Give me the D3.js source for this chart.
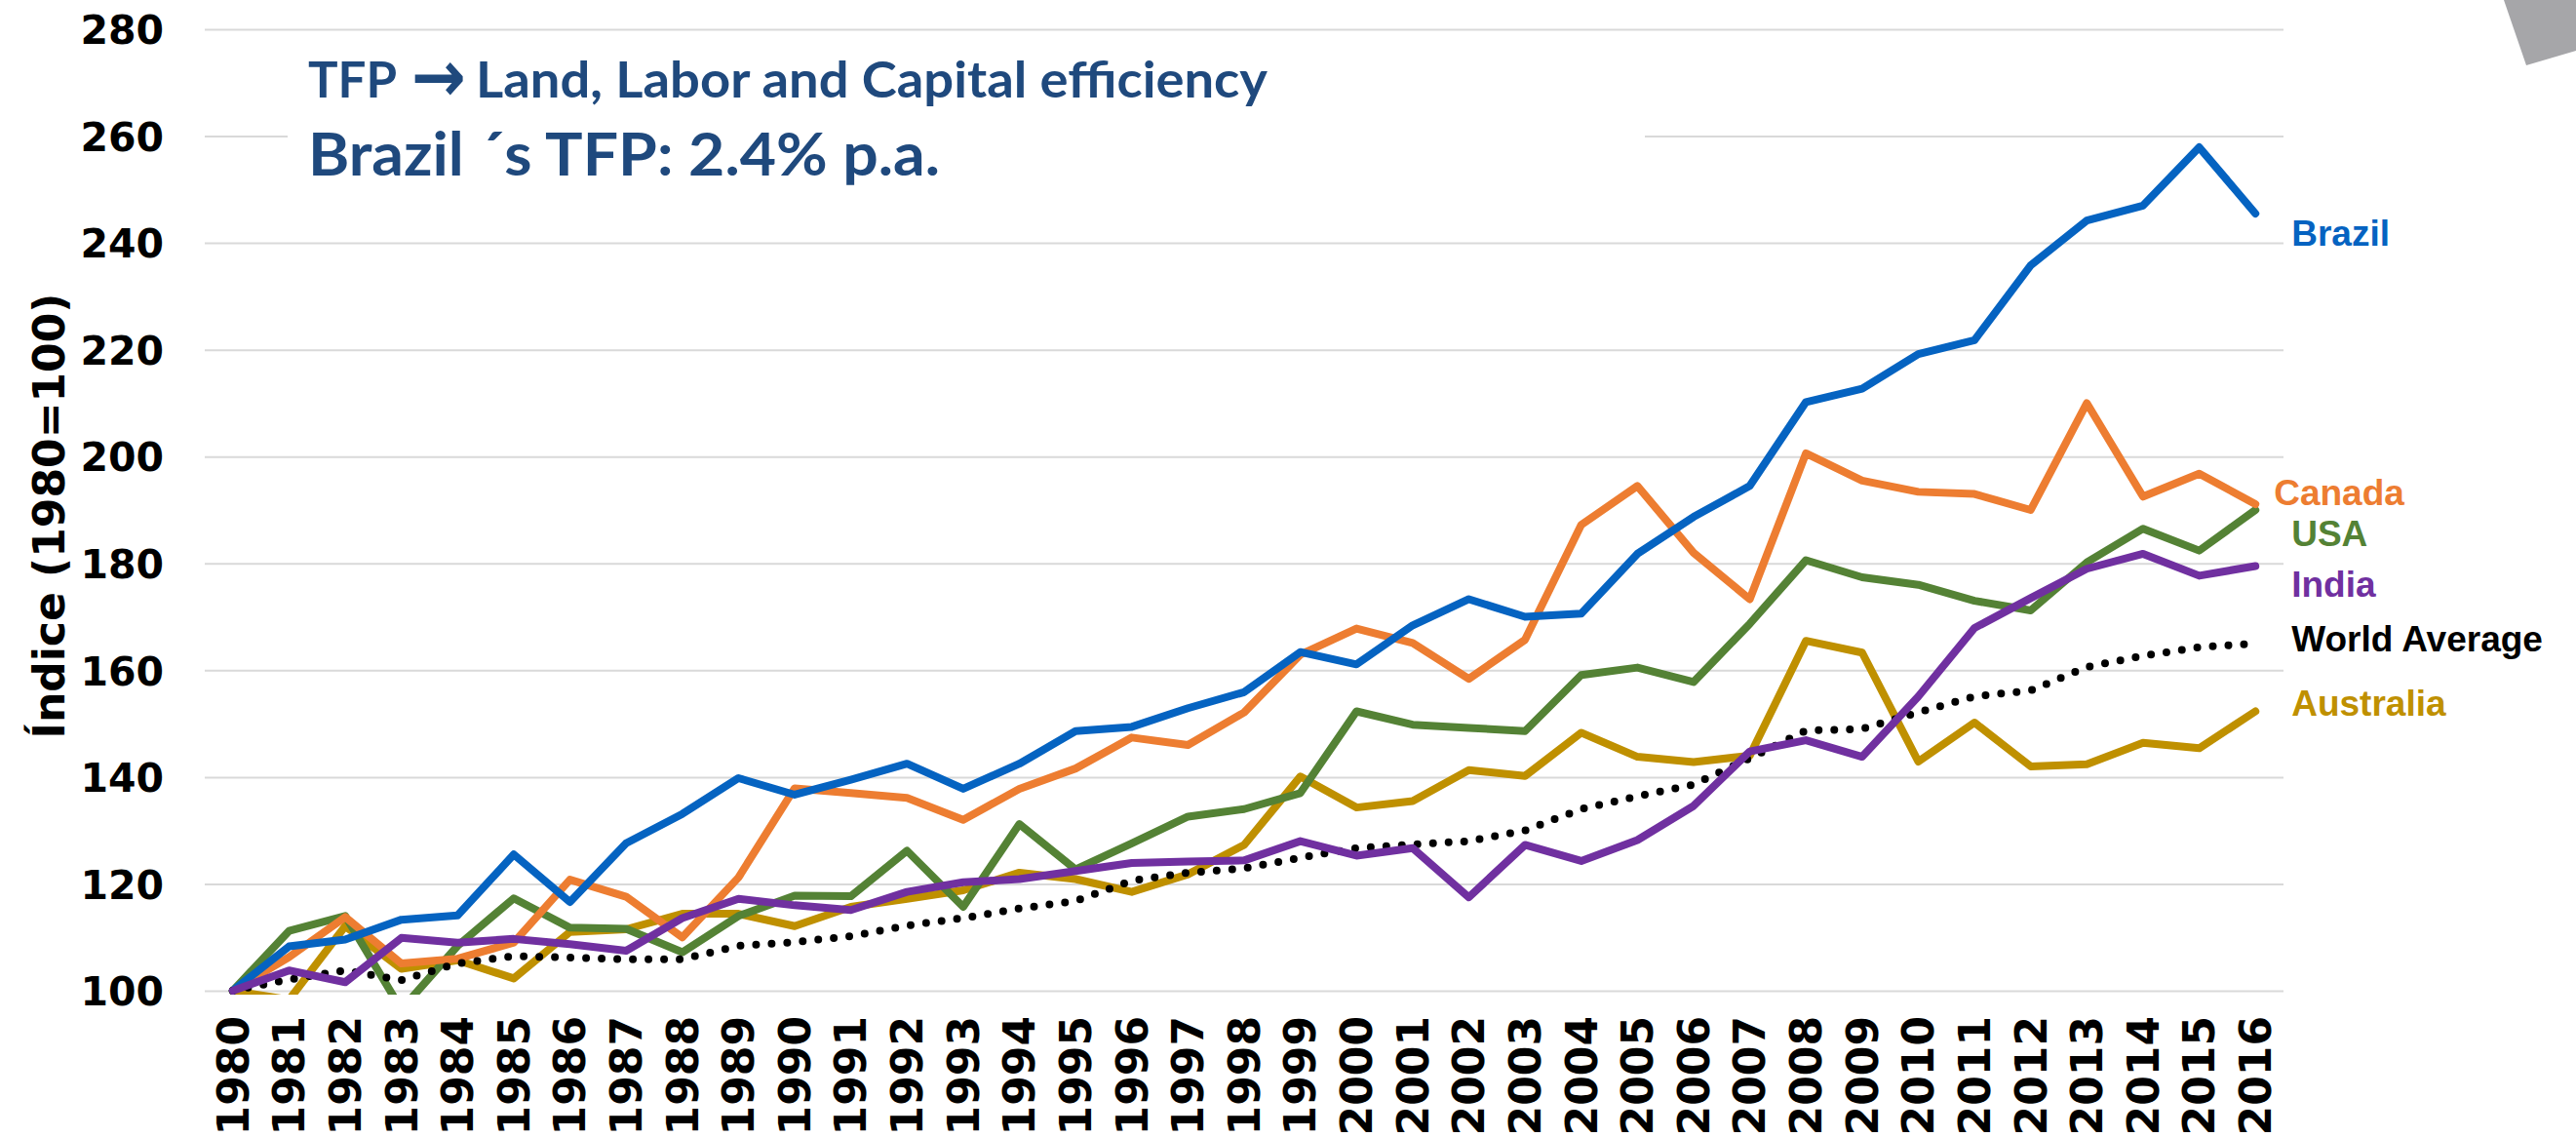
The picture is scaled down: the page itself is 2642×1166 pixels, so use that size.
<!DOCTYPE html>
<html>
<head>
<meta charset="utf-8">
<script src="https://cdn.jsdelivr.net/npm/d3@7"></script>
<style>
  body { margin: 0; background: #fff; }
  .grid line { stroke: #d9d9d9; stroke-width: 2; }
  .grid .domain { display: none; }
  .axis text { font-family: "DejaVu Sans", sans-serif; font-weight: bold; fill: #000; }
  .axis .domain, .axis line { display: none; }
  .series { fill: none; stroke-width: 8; stroke-linejoin: round; stroke-linecap: round; }
</style>
</head>
<body>
<svg class="tfp-chart"></svg>
<script>
var years = d3.range(1980, 2017).map(String);

var brazil = [100, 108.3, 109.6, 113.3, 114.1, 125.5, 116.6, 127.6, 133.1, 139.8, 136.7, 139.5, 142.5, 137.8, 142.5, 148.6, 149.4, 152.9, 155.9, 163.4, 161.1, 168.4, 173.3, 170, 170.6, 181.8, 188.7, 194.5, 210.2, 212.7, 219.2, 221.8, 235.8, 244.2, 247, 257.9, 245.5];
var canada = [100, 106.3, 113.8, 105.1, 106, 109, 120.8, 117.6, 110, 121.2, 137.9, 137, 136.1, 132, 137.8, 141.6, 147.4, 146, 152.1, 162.9, 167.8, 165.1, 158.4, 165.7, 187.2, 194.5, 182, 173.3, 200.6, 195.5, 193.4, 193, 190, 210, 192.5, 196.8, 191.1];
var usa = [100, 111.2, 114, 96.5, 108.4, 117.3, 111.8, 111.6, 107.2, 114, 117.8, 117.7, 126.2, 115.7, 131.2, 122.7, 127.6, 132.6, 134, 137, 152.3, 149.8, 149.2, 148.6, 159.1, 160.5, 157.8, 168.7, 180.6, 177.4, 176, 173, 171.2, 180.2, 186.5, 182.4, 190];
var india = [100, 103.8, 101.6, 109.9, 109, 109.7, 108.7, 107.5, 113.6, 117.2, 116, 115.1, 118.5, 120.3, 120.9, 122.4, 123.9, 124.2, 124.4, 128, 125.3, 126.7, 117.5, 127.3, 124.3, 128.2, 134.6, 144.8, 146.9, 143.8, 155.1, 167.9, 173.5, 179, 181.8, 177.7, 179.5];
var worldAverage = [100, 102.1, 103.8, 102, 105.1, 106.5, 106.2, 105.9, 105.9, 108.4, 109.1, 110.2, 112.2, 113.6, 115.4, 116.8, 120.6, 122.1, 122.9, 124.9, 126.7, 127.4, 128, 130, 134, 136.4, 138.6, 143.5, 148.7, 149, 152.1, 155.1, 156.2, 160.6, 162.7, 164.3, 165];
var australia = [100, 98.3, 112.1, 104.1, 105.7, 102.3, 111, 111.5, 114.4, 114.4, 112.1, 115.7, 117.2, 118.8, 122.1, 120.9, 118.5, 121.8, 127.3, 140.1, 134.3, 135.5, 141.3, 140.2, 148.3, 143.8, 142.8, 144, 165.5, 163.3, 142.9, 150.2, 142, 142.4, 146.4, 145.4, 152.3];

var yTicks = [100, 120, 140, 160, 180, 200, 220, 240, 260, 280];

var titleLine1 = "TFP ";
var titleArrow = "\u2192";
var titleLine1b = "Land, Labor and Capital efficiency";
var titleLine2 = "Brazil \u00b4s TFP: 2.4% p.a.";
var yTitle = "\u00cdndice (1980=100)";

// drawing order: last one on top
var series = [
  {name: "Australia", values: australia, color: "#bf9000", labelAt: 151.4},
  {name: "USA", values: usa, color: "#548235", labelAt: 183.2},
  {name: "Canada", values: canada, color: "#ed7d31", labelAt: 191},
  {name: "Brazil", values: brazil, color: "#0563c1", labelAt: 239.5},
  {name: "World Average", values: worldAverage, color: "#000000", labelAt: 163.5, dotted: true},
  {name: "India", values: india, color: "#7030a0", labelAt: 173.7}
];

var W = 2642, H = 1166;
var margin = {top: 30, right: 300, bottom: 150, left: 210};
var width = W - margin.left - margin.right;
var height = H - margin.top - margin.bottom;

var svg = d3.select(".tfp-chart")
  .attr("width", W)
  .attr("height", H)
  .style("font-family", "'DejaVu Sans', sans-serif");

svg.append("rect").attr("width", W).attr("height", H).attr("fill", "#fff");

var chart = svg.append("g")
  .attr("transform", "translate(" + margin.left + "," + margin.top + ")");

var x = d3.scaleBand().domain(years).range([0, width]).padding(0);
var y = d3.scaleLinear().domain([100, 280]).range([height, 0]);

function cx(i) { return x(years[i]) + x.bandwidth() / 2; }

chart.append("defs").append("clipPath").attr("id", "plot-clip")
  .append("rect")
  .attr("x", 0).attr("y", -10)
  .attr("width", width).attr("height", height + 14);

// gridlines
chart.append("g")
  .attr("class", "grid")
  .call(d3.axisLeft(y).tickValues(yTicks).tickSize(-width).tickFormat(""));

// y axis labels
var yAxis = chart.append("g")
  .attr("class", "axis")
  .call(d3.axisLeft(y).tickValues(yTicks).tickSize(0).tickPadding(42).tickFormat(d3.format("d")));
yAxis.selectAll("text").style("font-size", "41px").attr("dy", "0.36em");

// x axis labels
var xAxis = chart.append("g")
  .attr("class", "axis")
  .attr("transform", "translate(0," + height + ")")
  .call(d3.axisBottom(x).tickSize(0));
xAxis.selectAll("text")
  .style("font-size", "44px")
  .style("text-anchor", "end")
  .attr("y", 0)
  .attr("x", -26)
  .attr("dy", "0.36em")
  .attr("transform", "rotate(-90)");

// y title
svg.append("text")
  .attr("transform", "rotate(-90)")
  .attr("x", -529)
  .attr("y", 50)
  .attr("dy", "0.36em")
  .style("text-anchor", "middle")
  .style("font-size", "44px")
  .style("font-weight", "bold")
  .text(yTitle);

// lines
var line = d3.line()
  .x(function(d, i) { return cx(i); })
  .y(function(d) { return y(d); });

var lines = chart.append("g").attr("clip-path", "url(#plot-clip)");
series.forEach(function(s) {
  var p = lines.append("path")
    .datum(s.values)
    .attr("class", "series")
    .attr("stroke", s.color)
    .attr("d", line);
  if (s.dotted) {
    p.attr("stroke-dasharray", "0 16");
  }
});

// series labels next to the last point
var last = years.length - 1;
chart.selectAll(".series-label")
  .data(series)
  .enter().append("text")
  .attr("class", "series-label")
  .attr("x", function(d) { return cx(last) + (d.name == "Canada" ? 19 : 37); })
  .attr("y", function(d) { return y(d.labelAt); })
  .style("font-family", "'Liberation Sans', Arial, sans-serif")
  .style("font-weight", "bold")
  .style("font-size", "37px")
  .attr("fill", function(d) { return d.color; })
  .text(function(d) { return d.name; });

// title box
svg.append("rect")
  .attr("x", 295).attr("y", 45)
  .attr("width", 1392).attr("height", 180)
  .attr("fill", "#fff");

var t1 = svg.append("text")
  .attr("x", 316).attr("y", 100)
  .attr("fill", "#1f497d")
  .style("font-family", "Lato, 'Open Sans', sans-serif")
  .style("font-weight", "bold")
  .style("font-size", "51px");
t1.append("tspan").text(titleLine1);
t1.append("tspan")
  .attr("x", 422)
  .attr("dy", 4)
  .attr("textLength", 56)
  .attr("lengthAdjust", "spacingAndGlyphs")
  .style("font-family", "'DejaVu Sans', sans-serif")
  .style("font-size", "74px")
  .text(titleArrow);
t1.append("tspan")
  .attr("x", 488)
  .attr("dy", -4)
  .attr("textLength", 812)
  .attr("lengthAdjust", "spacingAndGlyphs")
  .text(titleLine1b);

svg.append("text")
  .attr("x", 316).attr("y", 180)
  .attr("fill", "#1f497d")
  .attr("textLength", 648)
  .attr("lengthAdjust", "spacingAndGlyphs")
  .style("font-family", "Lato, 'Open Sans', sans-serif")
  .style("font-weight", "bold")
  .style("font-size", "61px")
  .text(titleLine2);

// grey corner shape
svg.append("path")
  .attr("d", "M2568,0 L2591,67 L2642,52 L2642,0 Z")
  .attr("fill", "#a6a6a9");
</script>
</body>
</html>
